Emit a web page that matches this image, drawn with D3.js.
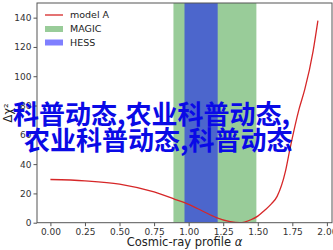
<!DOCTYPE html>
<html>
<head>
<meta charset="utf-8">
<script src="https://cdn.jsdelivr.net/npm/d3@7"></script>
<style>
  body { margin: 0; background: #fff; }
  svg { display: block; }
  .tick text { font-family: "DejaVu Sans", sans-serif; font-size: 9px; fill: #333; }
</style>
</head>
<body>
<script>
// curve of model A
var modelX = [0, 0.25, 0.5, 0.75, 0.9, 1.0, 1.1, 1.2, 1.3, 1.37, 1.45, 1.5, 1.55, 1.6, 1.64, 1.7, 1.73, 1.8, 1.84, 1.9, 1.935];
var modelY = [29.5, 28.6, 26.4, 21, 16, 12.5, 8, 3.5, 0.7, 0, 2, 4.5, 8.5, 13, 18, 35, 49, 78, 91, 117, 138];
// bands
var bandNames = ["MAGIC", "HESS"];
var bandLo = [0.89, 0.97];
var bandHi = [1.49, 1.21];
var bandColors = ["green", "blue"];
var bandAlpha = [0.4, 0.5];
var xTicks = [0, 0.25, 0.5, 0.75, 1.0, 1.25, 1.5, 1.75, 2.0];
var yTicks = [0, 20, 40, 60, 80, 100, 120, 140];
var overlayLines = ["科普动态,农业科普动态,", "农业科普动态,科普动态"];

var W = 333, H = 250;
var svg = d3.select("body").append("svg").attr("width", W).attr("height", H);

var pL = 37, pR = 332, pT = 3, pB = 222.7;
var x = d3.scaleLinear().domain([-0.097, 2.037]).range([pL, pR]);
var y = d3.scaleLinear().domain([0, 150]).range([pB, pT]);

svg.append("clipPath").attr("id", "clip")
  .append("rect").attr("x", pL).attr("y", pT).attr("width", pR - pL).attr("height", pB - pT);

var plot = svg.append("g").attr("clip-path", "url(#clip)");

plot.selectAll("rect.band").data(bandNames).enter().append("rect")
  .attr("class", "band")
  .attr("x", function(d, i) { return x(bandLo[i]); })
  .attr("y", pT)
  .attr("width", function(d, i) { return x(bandHi[i]) - x(bandLo[i]); })
  .attr("height", pB - pT)
  .attr("fill", function(d, i) { return bandColors[i]; })
  .attr("fill-opacity", function(d, i) { return bandAlpha[i]; });

var pts = modelX.map(function(v, i) { return [v, modelY[i]]; });
var line = d3.line().x(function(d) { return x(d[0]); }).y(function(d) { return y(d[1]); }).curve(d3.curveMonotoneX);
plot.append("path").datum(pts)
  .attr("d", line).attr("fill", "none").attr("stroke", "#d62728").attr("stroke-width", 1.3);

// axes
var xAxis = svg.append("g").attr("transform", "translate(0," + pB + ")")
  .call(d3.axisBottom(x).tickValues(xTicks).tickFormat(d3.format(".2f")).tickSize(3.5).tickPadding(2));
var yAxis = svg.append("g").attr("transform", "translate(" + pL + ",0)")
  .call(d3.axisLeft(y).tickValues(yTicks).tickFormat(d3.format("d")).tickSize(3.5).tickPadding(2));
[xAxis, yAxis].forEach(function(a) {
  a.select(".domain").remove();
  a.selectAll(".tick line").attr("stroke", "#555");
});

// frame
svg.append("rect").attr("x", pL).attr("y", pT).attr("width", pR - pL).attr("height", pB - pT)
  .attr("fill", "none").attr("stroke", "#555").attr("stroke-width", 1);

// labels
var xl = svg.append("text").attr("x", (pL + pR) / 2).attr("y", 246)
  .attr("text-anchor", "middle").style("font-family", "DejaVu Sans, sans-serif").style("font-size", "11.5px").attr("fill", "#222");
xl.append("tspan").text("Cosmic-ray profile ");
xl.append("tspan").style("font-style", "italic").text("α");

svg.append("text").attr("transform", "translate(12," + ((pT + pB) / 2) + ") rotate(-90)")
  .attr("text-anchor", "middle").style("font-family", "DejaVu Sans, sans-serif").style("font-size", "11.5px").attr("fill", "#222")
  .text("Δχ²");

// legend
var lg = svg.append("g").style("font-family", "DejaVu Sans, sans-serif").style("font-size", "9.5px");
lg.append("line").attr("x1", 45).attr("x2", 63).attr("y1", 15).attr("y2", 15).attr("stroke", "#d62728").attr("stroke-width", 1.3);
lg.append("text").attr("x", 70).attr("y", 15).attr("dy", "0.35em").attr("fill", "#222").text("model A");
bandNames.forEach(function(n, i) {
  var yy = 29 + i * 13.5;
  lg.append("rect").attr("x", 45).attr("y", yy - 3).attr("width", 18).attr("height", 6)
    .attr("fill", bandColors[i]).attr("fill-opacity", bandAlpha[i]);
  lg.append("text").attr("x", 70).attr("y", yy).attr("dy", "0.35em").attr("fill", "#222").text(n);
});

// overlay text
var ov = svg.append("text").style("font-family", "'Noto Sans CJK SC', sans-serif").style("font-size", "26px")
  .style("font-weight", "bold").attr("fill", "#0a0ae6");
ov.append("tspan").attr("x", 13).attr("y", 124).text(overlayLines[0]);
ov.append("tspan").attr("x", 24).attr("y", 150).text(overlayLines[1]);
</script>
</body>
</html>
